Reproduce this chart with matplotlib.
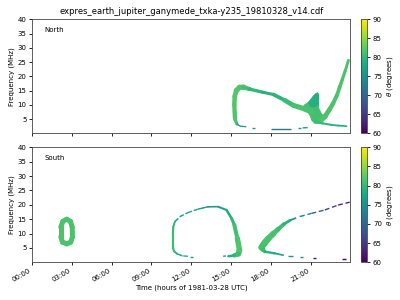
import numpy as np
import matplotlib
matplotlib.use("Agg")
import matplotlib.pyplot as plt
from matplotlib.collections import LineCollection
from matplotlib.colors import Normalize
from matplotlib.cm import ScalarMappable

# ---- data (time in hours, frequency in MHz, theta in degrees) ----
hour_ticks = [0, 3, 6, 9, 12, 15, 18, 21]
hour_labels = ["00:00", "03:00", "06:00", "09:00", "12:00", "15:00", "18:00", "21:00"]
freq_ticks = [5, 10, 15, 20, 25, 30, 35, 40]
theta_ticks = [60, 65, 70, 75, 80, 85, 90]

# North hemisphere
n_loop_t = [15.45, 15.30, 15.25, 15.28, 15.40, 15.65, 15.95, 16.40, 17.40, 18.20, 19.05, 19.70, 20.20, 20.70, 21.10]
n_loop_f = [3.2, 5.0, 10.0, 13.0, 15.0, 16.1, 16.2, 15.5, 14.4, 13.6, 11.6, 9.8, 9.1, 8.2, 7.5]
n_loop_th = [80, 81.5, 82, 82, 82, 82, 81.5, 80.5, 79, 79, 80, 81, 81.5, 81.5, 81.5]

n_blob_t = [20.5, 20.9, 21.2, 21.4, 21.55, 21.63, 21.63, 21.8, 21.95, 21.9, 21.7, 21.3, 21.05, 20.95, 20.7, 20.3]
n_blob_f = [10.0, 11.3, 13.2, 14.1, 14.3, 13.5, 9.0, 7.3, 6.3, 5.0, 3.4, 3.3, 4.5, 6.0, 7.8, 8.8]
n_spike_t = [20.8, 21.2, 21.4, 21.55, 21.63, 21.63, 21.3, 21.0]
n_spike_f = [10.8, 13.2, 14.1, 14.3, 13.5, 10.0, 9.0, 9.3]

n_rise_t = [21.75, 22.10, 22.45, 22.70, 23.00, 23.20, 23.40, 23.60, 23.85]
n_rise_f = [4.5, 6.0, 8.5, 10.5, 13.5, 16.3, 19.0, 21.8, 25.6]
n_rise_th = [81.5, 81.5, 81.5, 81.5, 81.5, 81.5, 81.5, 81.5, 81.5]

n_tail_t = [21.4, 21.9, 22.5, 23.1, 23.7]
n_tail_f = [4.0, 3.5, 3.0, 2.7, 2.5]
n_tail_th = [80.5, 80, 79.5, 79, 78]

n_dash_t = [[15.45, 15.70, 16.15], [16.55, 16.79], [18.05, 19.56], [20.03, 20.31], [20.41, 20.78]]
n_dash_f = [[3.2, 2.5, 2.3], [1.9, 1.9], [1.4, 1.4], [1.75, 1.75], [1.9, 2.0]]
n_dash_th = [77, 76, 72.5, 76, 77]

# South hemisphere
s_ring_t = [2.61, 2.90, 3.03, 3.05, 2.92, 2.62, 2.30, 2.17, 2.17, 2.32, 2.61]
s_ring_f = [15.0, 14.2, 12.2, 8.8, 7.0, 6.4, 7.0, 8.8, 12.2, 14.2, 15.0]
s_ring_th = 81.5

s_loop_t = [11.30, 10.95, 10.72, 10.62, 10.62, 10.65, 10.77, 11.15, 11.77, 12.52, 13.27, 14.03, 14.66, 15.04, 15.25, 15.48, 15.64, 15.55, 15.25, 14.80]
s_loop_f = [2.3, 2.9, 3.8, 5.0, 10.0, 12.4, 14.1, 15.9, 17.3, 18.5, 19.3, 19.35, 18.2, 15.3, 13.0, 8.3, 4.3, 2.9, 2.4, 2.1]
s_loop_th = [77, 78.5, 80, 80.5, 80.5, 80, 78.5, 77.5, 77, 76.5, 76, 76, 77, 79, 80.5, 81.5, 82, 81.5, 80, 78]

s_cres_t = [17.30, 17.55, 17.80, 18.20, 18.55, 19.00, 19.45, 20.18, 21.06, 22.07, 23.07, 23.95]
s_cres_f = [5.2, 6.8, 8.2, 10.0, 11.5, 13.3, 14.6, 15.9, 17.0, 18.2, 19.9, 20.9]
s_cres_th = [81.5, 81.5, 81.5, 81.5, 81, 80, 78, 75.5, 71.5, 67.5, 64, 63]

s_low_t = [17.30, 17.40, 17.55, 18.30, 18.93]
s_low_f = [5.2, 4.4, 3.7, 3.1, 2.5]
s_low_th = [81.5, 81, 80, 78, 77]

s_dash_t = [[11.40, 11.75], [11.90, 12.15], [14.41, 14.62], [19.30, 19.68], [20.18, 20.41], [21.19, 21.44], [23.33, 23.70]]
s_dash_f = [[2.2, 2.1], [1.9, 1.9], [2.1, 2.2], [2.2, 2.2], [1.95, 1.95], [1.6, 1.6], [1.1, 1.1]]
s_dash_th = [77, 76.5, 76, 76, 74, 62, 60.5]

cmap = plt.get_cmap("viridis")
norm = Normalize(60, 90)


def band(ax, t, f, theta, lw, ls="solid", start=0, stop=None):
    # thick coloured polyline; start/stop pick a slice of the points
    stop = len(t) if stop is None else stop
    pts = np.column_stack([t, f])[start:stop]
    theta = np.broadcast_to(np.asarray(theta, float), (len(t),))[start:stop]
    lw = np.broadcast_to(np.asarray(lw, float), (len(t),))[start:stop]
    segs = np.stack([pts[:-1], pts[1:]], axis=1)
    cap = "round" if ls == "solid" else "butt"
    lc = LineCollection(segs, array=(theta[:-1] + theta[1:]) / 2, cmap=cmap, norm=norm,
                        linewidths=(lw[:-1] + lw[1:]) / 2, capstyle=cap, joinstyle="round",
                        linestyles=ls)
    ax.add_collection(lc)


def dashes(ax, ts, fs, ths, lw=1.0):
    for t, f, th in zip(ts, fs, ths):
        ax.plot(t, f, color=cmap(norm(th)), lw=lw, solid_capstyle="butt")


fig = plt.figure(figsize=(4, 3), dpi=100)
ax_n = fig.add_axes([0.08, 0.5557, 0.796, 0.38])
ax_s = fig.add_axes([0.08, 0.1257, 0.796, 0.3833])
cax_n = fig.add_axes([0.902, 0.5557, 0.0165, 0.38])
cax_s = fig.add_axes([0.902, 0.1257, 0.0165, 0.3833])

# north
band(ax_n, n_loop_t, n_loop_f, n_loop_th, [1.5, 3.0, 3.2, 3.2, 3.6, 4.0, 3.6, 2.6, 2.2, 2.2, 3.2, 3.6, 3.6, 3.6, 3.6])
ax_n.fill(n_blob_t, n_blob_f, color=cmap(norm(81)), lw=0)
ax_n.fill(n_spike_t, n_spike_f, color=cmap(norm(78.8)), lw=0)
band(ax_n, n_rise_t, n_rise_f, n_rise_th, [4.0, 3.6, 3.3, 3.0, 2.8, 2.6, 2.4, 2.2, 2.0])
band(ax_n, n_tail_t, n_tail_f, n_tail_th, [1.8, 1.6, 1.4, 1.3, 1.2])
dashes(ax_n, n_dash_t, n_dash_f, n_dash_th)

# south
band(ax_s, s_ring_t, s_ring_f, s_ring_th, 3.6)
loop_lw = [1.0, 1.2, 1.5, 1.6, 1.6, 1.5, 1.2, 1.1, 1.0, 1.0, 1.1, 1.2, 1.6, 2.0, 2.4, 3.4, 4.4, 4.0, 2.4, 1.2]
band(ax_s, s_loop_t, s_loop_f, s_loop_th, loop_lw, stop=7)
band(ax_s, s_loop_t, s_loop_f, s_loop_th, loop_lw, ls=(0, (3, 1.2)), start=6, stop=10)
band(ax_s, s_loop_t, s_loop_f, s_loop_th, loop_lw, start=9)
cres_lw = [4.6, 4.8, 4.6, 4.0, 3.2, 2.4, 1.6, 1.1, 1.0, 1.0, 1.0, 1.0]
band(ax_s, s_cres_t, s_cres_f, s_cres_th, cres_lw, stop=7)
band(ax_s, s_cres_t, s_cres_f, s_cres_th, cres_lw, ls=(0, (3.5, 2)), start=6)
band(ax_s, s_low_t, s_low_f, s_low_th, [4.0, 3.0, 2.0, 1.4, 1.1])
dashes(ax_s, s_dash_t, s_dash_f, s_dash_th)

for ax, name, cax in [(ax_n, "North", cax_n), (ax_s, "South", cax_s)]:
    ax.set_xlim(0, 24)
    ax.set_ylim(0, 40)
    ax.set_xticks(hour_ticks)
    ax.set_yticks(freq_ticks)
    ax.tick_params(labelsize=5, length=2.5, width=0.6, pad=1.5)
    for sp in ax.spines.values():
        sp.set_linewidth(0.6)
        sp.set_color("#444444")
    ax.set_ylabel("Frequency (MHz)", fontsize=5, labelpad=2)
    ax.text(0.038, 0.91, name, transform=ax.transAxes, fontsize=5, va="center")
    cb = fig.colorbar(ScalarMappable(norm=norm, cmap=cmap), cax=cax, ticks=theta_ticks)
    cb.outline.set_linewidth(0.6)
    cb.outline.set_edgecolor("#444444")
    cax.tick_params(labelsize=5, length=2.5, width=0.6, pad=1.5)
    cb.set_label(r"$\theta$ (degrees)", fontsize=5, labelpad=2)

ax_n.set_xticklabels([])
ax_s.set_xticklabels(hour_labels, rotation=30, ha="right")
ax_s.set_xlabel("Time (hours of 1981-03-28 UTC)", fontsize=5, labelpad=1)
ax_n.set_title("expres_earth_jupiter_ganymede_txka-y235_19810328_v14.cdf", fontsize=6, pad=4)

fig.savefig("out.png", dpi=100)
